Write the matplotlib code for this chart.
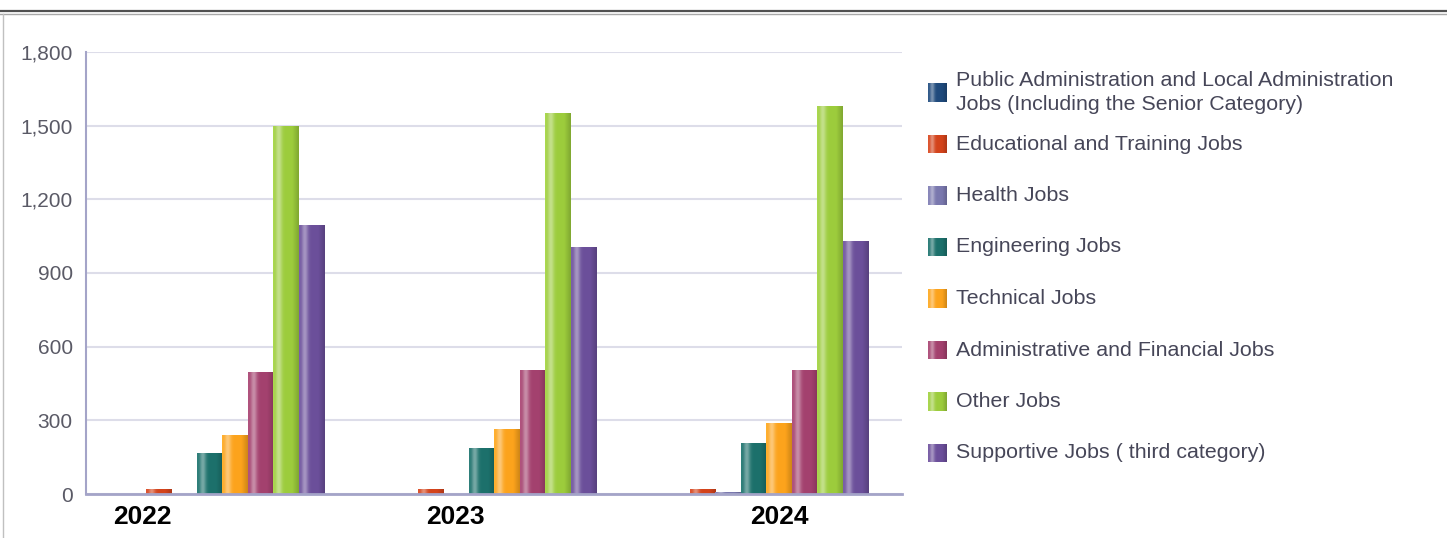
import numpy as np
import matplotlib
matplotlib.use("Agg")
import matplotlib.pyplot as plt
from matplotlib.lines import Line2D
from matplotlib.colors import to_rgb

# ---------------- data ----------------
years = ["2022", "2023", "2024"]
series_names = [
    "Public Administration and Local Administration\nJobs (Including the Senior Category)",
    "Educational and Training Jobs",
    "Health Jobs",
    "Engineering Jobs",
    "Technical Jobs",
    "Administrative and Financial Jobs",
    "Other Jobs",
    "Supportive Jobs ( third category)",
]
public_admin = [0, 0, 0]
educational = [20, 20, 20]
health = [0, 0, 8]
engineering = [166, 188, 206]
technical = [240, 263, 288]
admin_financial = [498, 505, 505]
other = [1500, 1550, 1582]
supportive = [1095, 1006, 1030]
series_values = [public_admin, educational, health, engineering,
                 technical, admin_financial, other, supportive]
y_ticks = [0, 300, 600, 900, 1200, 1500, 1800]
y_tick_labels = ["0", "300", "600", "900", "1,200", "1,500", "1,800"]

# ---------------- style ----------------
colors = ["#1f4a7c", "#d3431b", "#7a78ae", "#1c706b",
          "#fca31c", "#a3416e", "#9ccc3c", "#6b4f9a"]
plt.rcParams['font.family'] = ['Liberation Sans', 'DejaVu Sans']

W, H = 1447, 538
fig = plt.figure(figsize=(W / 100, H / 100), dpi=100)
ax = fig.add_axes([86 / W, 1 - 494 / H, (902 - 86) / W, (494 - 52) / H])


def shade(color, n=64):
    base = np.array(to_rgb(color))
    t = np.linspace(0, 1, n)
    hl = 0.40 * np.exp(-((t - 0.22) / 0.13) ** 2)
    dk = 0.18 * np.clip((t - 0.75) / 0.25, 0, 1)
    edge = 0.10 * np.clip((0.08 - t) / 0.08, 0, 1)
    rgb = base[None, :] * (1 - hl[:, None]) + hl[:, None]
    rgb = rgb * (1 - dk[:, None]) + edge[:, None] * 0.5
    rgb = np.clip(rgb, 0, 1)
    img = np.ones((1, n, 4))
    img[0, :, :3] = rgb
    return img


n_series = len(series_values)
group = 0.75
bw = group / n_series
x = np.arange(len(years))
for i, (vals, col) in enumerate(zip(series_values, colors)):
    xpos = x + (i - (n_series - 1) / 2) * bw
    bars = ax.bar(xpos, vals, width=bw, color=col, zorder=3, linewidth=0)
    for b in bars:
        h = b.get_height()
        if h <= 0:
            continue
        x0 = b.get_x()
        im = ax.imshow(shade(col), extent=[x0, x0 + b.get_width(), 0, h],
                       aspect='auto', zorder=4, interpolation='bilinear')
        im.set_clip_path(b)

ax.set_xlim(-0.5, len(years) - 0.5)
ax.set_ylim(0, 1800)
ax.set_yticks(y_ticks)
ax.set_yticklabels(y_tick_labels)
ax.set_xticks([])
ax.tick_params(axis='y', length=0, pad=9.5, labelsize=15, labelcolor="#5a5a66")
ax.yaxis.grid(True, color="#dddde9", linewidth=1.5, zorder=0)
ax.set_axisbelow(True)
for s in ["top", "right"]:
    ax.spines[s].set_visible(False)
ax.spines["left"].set_color("#a4a4c8")
ax.spines["left"].set_linewidth(1.5)
ax.spines["bottom"].set_color("#a4a4c8")
ax.spines["bottom"].set_linewidth(2)
ax.spines["bottom"].set_zorder(5)

# year labels (placed as in the reference, off-centre)
year_label_x = [142, 455, 779]
for lbl, px in zip(years, year_label_x):
    fig.text(px / W, 1 - 517 / H, lbl, ha='center', va='center',
             fontsize=19, fontweight='bold', color='black')

# manual legend
leg_y0, leg_dy = 92.5, 51.5
for i, (name, col) in enumerate(zip(series_names, colors)):
    yc = leg_y0 + i * leg_dy
    ph = 19
    pax = fig.add_axes([928 / W, 1 - (yc + ph / 2) / H, 19 / W, ph / H])
    pax.imshow(shade(col), extent=[0, 1, 0, 1], aspect='auto', interpolation='bilinear')
    pax.set_axis_off()
    fig.text(956 / W, 1 - yc / H, name, ha='left', va='center',
             fontsize=15.4, color="#464658", linespacing=1.3)

# frame lines
fig.add_artist(Line2D([0, 1], [1 - 10.5 / H, 1 - 10.5 / H], color="#505050", lw=1.6))
fig.add_artist(Line2D([0, 1], [1 - 14 / H, 1 - 14 / H], color="#a8a8a8", lw=1.0))
fig.add_artist(Line2D([3 / W, 3 / W], [0, 1 - 14 / H], color="#c0c0c0", lw=1.0))

fig.savefig("out.png", dpi=100)
